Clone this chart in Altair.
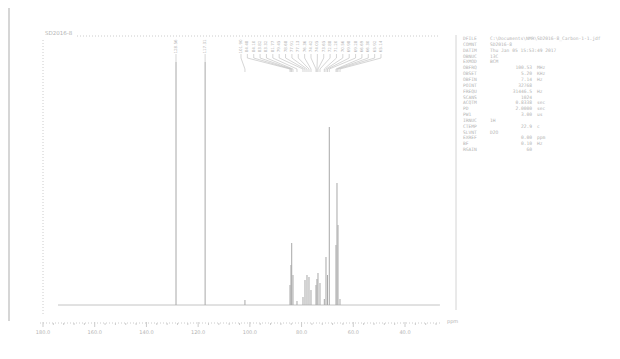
import altair as alt
import pandas as pd
import numpy as np

# ---------------- data ----------------
peak_ppm = [128.562, 117.305, 101.902, 84.476, 84.102, 83.818, 83.321, 81.772,
            79.452, 78.679, 77.905, 77.132, 76.358, 74.425, 74.048, 73.651,
            72.878, 71.201, 70.558, 69.978, 69.282, 66.691, 66.304, 65.918, 65.144]
peak_height = [243, 243, 5, 20, 40, 62, 30, 4,
               8, 25, 30, 28, 15, 20, 26, 32,
               22, 6, 48, 30, 178, 60, 122, 80, 6]

axis_ticks = [180, 160, 140, 120, 100, 80, 60, 40]
minor_ticks = [v for v in range(28, 181, 4) if v % 20 != 0]

sample_title = "SD2016-8"

param_names = ["DFILE", "COMNT", "DATIM", "OBNUC", "EXMOD", "OBFRQ", "OBSET",
               "OBFIN", "POINT", "FREQU", "SCANS", "ACQTM", "PD", "PW1",
               "IRNUC", "CTEMP", "SLVNT", "EXREF", "BF", "RGAIN"]
param_text = ["C:\\Documents\\NMR\\SD2016-8_Carbon-1-1.jdf", "SD2016-8",
              "Thu Jan 05 15:53:49 2017", "13C", "BCM", "", "", "", "", "", "",
              "", "", "", "1H", "", "D2O", "", "", ""]
param_num = ["", "", "", "", "", "100.53", "5.20", "7.14", "32768", "31446.5",
             "1024", "0.8338", "2.0000", "3.00", "", "22.9", "", "0.00", "0.10", "60"]
param_unit = ["", "", "", "", "", "MHz", "KHz", "Hz", "", "Hz", "", "sec", "sec",
              "us", "", "c", "", "ppm", "Hz", ""]

# ---------------- scales ----------------
xs = alt.Scale(domain=[181.16, 26.08], range=[32, 433], nice=False, zero=False)
ys = alt.Scale(domain=[0, 297], range=[297, 0], nice=False, zero=False)

GRAY = "#a8a8a8"
TXT = "#b4b4b4"
LIGHT = "#cccccc"

peaks_df = pd.DataFrame({"ppm": peak_ppm, "h": peak_height, "z": 0})

n_cluster = len(peak_ppm) - 2
label_x = list(peak_ppm[:2]) + [float(v) for v in np.linspace(103.43, 49.28, n_cluster)]
labels_df = pd.DataFrame({"lx": label_x, "txt": [f"{p:.2f}" for p in peak_ppm],
                          "ty": 258.5})

rows = []
for i, (lx, px, h) in enumerate(zip(label_x, peak_ppm, peak_height)):
    if i < 2:
        pts = [(lx, 251), (lx, 247), (px, 247), (px, h)]
    else:
        pts = [(lx, 251), (lx, 247), (px, 236), (px, 233)]
    for k, (x, y) in enumerate(pts):
        rows.append({"id": i, "k": k, "x": float(x), "y": float(y)})
leader_df = pd.DataFrame(rows)

base_df = pd.DataFrame({"a": [174.2], "b": [26.5], "z": [0]})

sticks = alt.Chart(peaks_df).mark_rule(color=GRAY, strokeWidth=1).encode(
    x=alt.X("ppm:Q", scale=xs, axis=None),
    y=alt.Y("h:Q", scale=ys, axis=None),
    y2="z:Q",
)

baseline = alt.Chart(base_df).mark_rule(color="#c4c4c4", strokeWidth=1).encode(
    x=alt.X("a:Q", scale=xs, axis=None),
    x2="b:Q",
    y=alt.Y("z:Q", scale=ys, axis=None),
)

# hand-drawn x axis (through the x scale)
axis_line = alt.Chart(pd.DataFrame({"d": [0]})).mark_rule(
    color=LIGHT, strokeDash=[1, 2]).encode(
    x=alt.value(32), x2=alt.value(433), y=alt.value(315))

minor_df = pd.DataFrame({"t": minor_ticks})
minor = alt.Chart(minor_df).mark_rule(color=LIGHT, strokeWidth=1).encode(
    x=alt.X("t:Q", scale=xs, axis=None),
    y=alt.value(315), y2=alt.value(317),
)
major_df = pd.DataFrame({"t": axis_ticks})
major = alt.Chart(major_df).mark_rule(color=LIGHT, strokeWidth=1).encode(
    x=alt.X("t:Q", scale=xs, axis=None),
    y=alt.value(314), y2=alt.value(319),
)
major_lbl = alt.Chart(major_df).mark_text(
    fontSize=5, color=TXT, font="DejaVu Sans", align="center",
    baseline="middle").encode(
    x=alt.X("t:Q", scale=xs, axis=None),
    y=alt.value(324),
    text=alt.Text("t:Q", format=".1f"),
)

peak_labels = alt.Chart(labels_df).mark_text(
    angle=270, fontSize=4, color=TXT, font="DejaVu Sans",
    align="center", baseline="middle").encode(
    x=alt.X("lx:Q", scale=xs, axis=None),
    y=alt.Y("ty:Q", scale=ys, axis=None),
    text="txt:N",
)

leaders = alt.Chart(leader_df).mark_line(color="#c4c4c4", strokeWidth=0.7).encode(
    x=alt.X("x:Q", scale=xs, axis=None),
    y=alt.Y("y:Q", scale=ys, axis=None),
    detail="id:N",
    order="k:Q",
)

deco_df = pd.DataFrame({"d": [0]})
top_frame = alt.Chart(deco_df).mark_rule(color=LIGHT, strokeDash=[1, 2]).encode(
    x=alt.value(69), x2=alt.value(432), y=alt.value(28))
left_frame = alt.Chart(deco_df).mark_rule(color=LIGHT, strokeDash=[1, 2]).encode(
    x=alt.value(35), y=alt.value(32), y2=alt.value(308))
edge_line = alt.Chart(deco_df).mark_rule(color="#c8c8c8", strokeWidth=1.5).encode(
    x=alt.value(1), y=alt.value(0), y2=alt.value(313))
block_line = alt.Chart(deco_df).mark_rule(color="#d4d4d4", strokeWidth=1).encode(
    x=alt.value(448), y=alt.value(27), y2=alt.value(302))

title_df = pd.DataFrame({"t": [sample_title]})
title = alt.Chart(title_df).mark_text(fontSize=5.5, color=TXT, align="left",
                                      font="DejaVu Sans", baseline="middle").encode(
    x=alt.value(37), y=alt.value(25), text="t:N")

ppm_df = pd.DataFrame({"t": ["ppm"]})
ppm_lbl = alt.Chart(ppm_df).mark_text(fontSize=5, color=TXT, align="left",
                                      font="DejaVu Sans", baseline="middle").encode(
    x=alt.value(439), y=alt.value(313), text="t:N")

pdf = pd.DataFrame({"name": param_names, "txt": param_text,
                    "num": param_num, "unit": param_unit})
pdf["yy"] = [297 - (31 + i * 5.85) for i in range(len(pdf))]


def col(field, xpix, align):
    return alt.Chart(pdf).mark_text(fontSize=4.6, color=TXT, align=align,
                                    font="DejaVu Sans Mono", baseline="middle").encode(
        x=alt.value(xpix),
        y=alt.Y("yy:Q", scale=ys, axis=None),
        text=f"{field}:N",
    )


chart = alt.layer(
    edge_line, block_line, top_frame, left_frame, axis_line, baseline, minor,
    major, major_lbl, leaders, sticks, peak_labels, title, ppm_lbl,
    col("name", 455, "left"), col("txt", 482, "left"),
    col("num", 524, "right"), col("unit", 529, "left"),
).properties(
    width=604, height=315,
    padding={"left": 0, "top": 0, "right": 0, "bottom": 28},
    autosize=alt.AutoSizeParams(type="none"),
    background="white",
).configure_view(strokeWidth=0)

chart.save("out.html", embed_options={"renderer": "svg", "actions": False})
